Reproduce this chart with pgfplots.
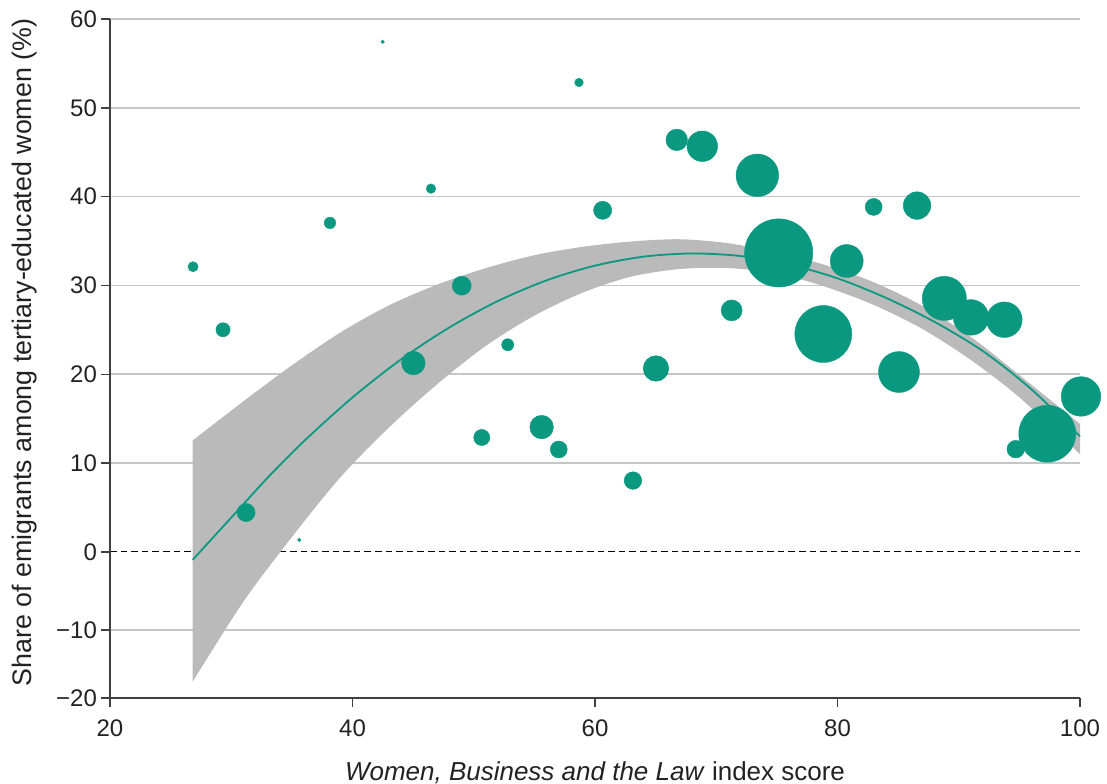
\documentclass[border=0pt]{standalone}
\usepackage{fontspec}
\setmainfont{Liberation Sans}
\usepackage{pgfplots}
\usepgfplotslibrary{fillbetween}
\pgfplotsset{compat=1.18}
\definecolor{bub}{HTML}{0A9980}
\definecolor{band}{HTML}{BABABA}
\definecolor{gridc}{HTML}{C6C6C6}
\definecolor{axc}{HTML}{404040}
\definecolor{txt}{HTML}{222222}

\begin{document}
\begin{tikzpicture}
% y axis is compressed below zero in the reference: -10 -> -8.79, -20 -> -16.45
\begin{axis}[
 scale only axis, width=485pt, height=339.5pt,
 xmin=20, xmax=100, ymin=-16.45, ymax=60,
 clip=false,
 axis x line*=bottom, axis y line*=left,
 x axis line style={draw=axc, line width=1pt},
 y axis line style={draw=axc, line width=0.7pt},
 xtick={20,40,60,80,100},
 ytick={-16.45,-8.79,10,20,30,40,50,60},
 yticklabels={−20,−10,10,20,30,40,50,60},
 extra y ticks={0}, extra y tick labels={0},
 extra y tick style={grid=major, major grid style={draw=black, line width=0.6pt, dash pattern=on 3.3pt off 2pt}},
 ymajorgrids, major grid style={draw=gridc, line width=0.8pt},
 tick align=outside, major tick length=4.5pt,
 tick style={draw=axc, line width=0.7pt},
 tick label style={font=\fontsize{12}{14}\selectfont, text=txt},
 xticklabel style={yshift=-3pt},
 yticklabel style={xshift=1.5pt},
 /pgf/number format/assume math mode=true,
 xlabel={\textit{Women, Business and the Law} index score},
 ylabel={Share of emigrants among tertiary-educated women (\%)},
 xlabel style={font=\fontsize{13}{15}\selectfont, text=txt, at={(axis description cs:0.5,-0.11)}, anchor=center},
 ylabel style={font=\fontsize{13.4}{15}\selectfont, text=txt, at={(axis description cs:-0.0876,0.509)}, anchor=center},
]
\addplot[name path=U, draw=none, smooth] coordinates {
(26.82,12.55) (31,16.95) (35,21.00) (39,24.70) (43,27.75) (47,30.10)
(51,31.95) (55,33.40) (59,34.35) (63,34.95) (67,35.20) (71,34.75)
(75,33.70) (79,32.30) (83,30.35) (87,27.70) (91,24.20) (95,19.90)
(100,14.40)
};
\addplot[name path=L, draw=none, smooth] coordinates {
(26.82,-14.61) (31,-5.60) (35,1.67) (39,8.40) (43,14.00) (47,18.90)
(51,23.20) (55,26.60) (59,29.20) (63,31.00) (67,31.85) (71,31.95)
(75,31.35) (79,29.85) (83,27.80) (87,25.10) (91,21.60) (95,17.40)
(100,11.00)
};
\addplot[fill=band, draw=none] fill between[of=U and L];
\addplot[bub, line width=0.9pt, smooth] coordinates {
(26.82,-0.90) (30,3.86) (33,8.35) (36,12.47) (40,17.39) (44,21.67)
(48,25.28) (52,28.25) (56,30.57) (60,32.23) (64,33.24) (68,33.60)
(72,33.31) (76,32.36) (80,30.80) (84,28.60) (88,25.90) (92,22.60)
(96,18.30) (100,13.00)
};
\addplot[scatter, only marks, mark=*,
 scatter src=explicit,
 scatter/use mapped color={draw=bub, fill=bub, line width=0.2pt},
 visualization depends on={\thisrow{s} \as \msize},
 scatter/@pre marker code/.append style={/tikz/mark size=\msize}]
 table[x=x, y=y, meta=s] {
x y s
26.85 32.11 2.55
29.32 25.01 3.55
31.22 4.43 4.55
35.61 1.35 0.9
38.14 37.04 2.9
42.49 57.43 0.9
45.02 21.26 5.9
46.47 40.90 2.4
49.01 29.97 4.75
50.66 12.88 4.05
52.80 23.32 3.05
55.60 14.05 5.9
57.01 11.53 4.25
58.68 52.85 2.15
60.63 38.46 4.55
63.13 8.03 4.4
65.03 20.65 6.4
66.74 46.39 5.4
68.85 45.67 7.65
71.27 27.19 5.25
73.39 42.40 10.65
75.15 33.66 17.05
78.83 24.53 14.25
80.76 32.75 8.25
82.98 38.84 4.25
85.07 20.25 10.25
86.56 38.99 6.9
88.81 28.54 11.05
91.01 26.40 8.9
93.76 26.14 8.9
94.70 11.57 4.4
97.30 13.30 14.25
100.08 17.50 9.9
};
\coordinate (ll) at (rel axis cs:0,0);
\coordinate (ur) at (rel axis cs:1,1);
\end{axis}
\pgfresetboundingbox
\path ([xshift=-55pt,yshift=-43pt]ll) rectangle ([xshift=13.5pt,yshift=9.5pt]ur);
\end{tikzpicture}
\end{document}
